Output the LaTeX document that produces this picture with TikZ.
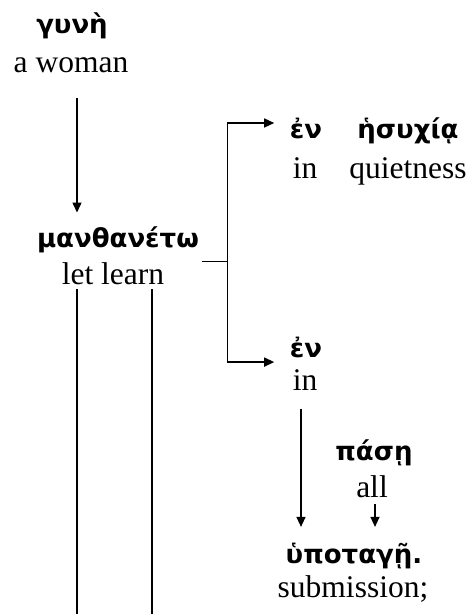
\documentclass[tikz,border=0pt]{standalone}
\usepackage{fontspec}
\setmainfont{Liberation Serif}
\newfontfamily\greekfont{DejaVu Sans}
\usetikzlibrary{arrows.meta}

\tikzset{
  gk/.style={font=\greekfont\bfseries\fontsize{26}{30}\selectfont, inner sep=0pt, anchor=base},
  gloss/.style={font=\fontsize{31.5}{36}\selectfont, inner sep=0pt, anchor=base},
  link/.style={-{Triangle[length=10pt,width=9pt]}},
}

\begin{document}
\begin{tikzpicture}[x=1pt, y=-1pt, line width=1.4pt]
    \useasboundingbox (0,0) rectangle (469,614);
    \coordinate (floor) at (0,614);

    % Greek words with their glosses
    \node[gk] (gyne) at (72,33) {γυνὴ};
    \node[gloss] (gyne-en) at (71,72) {a woman};

    \node[gk] (manth) at (118,247) {μανθανέτω};
    \node[gloss] (manth-en) at (113,284) {let learn};

    \node[gk] (en1) at (306,138) {ἐν};
    \node[gloss] (en1-en) at (305,178) {in};
    \node[gk] (hesy) at (408,138) {ἡσυχίᾳ};
    \node[gloss] (hesy-en) at (408,178) {quietness};

    \node[gk] (en2) at (306,357) {ἐν};
    \node[gloss] (en2-en) at (305,390) {in};

    \node[gk] (pase) at (374,460) {πάσῃ};
    \node[gloss] (pase-en) at (372,497) {all};

    \node[gk] (hypo) at (354,563) {ὑποταγῇ.};
    \node[gloss] (hypo-en) at (353,597) {submission;};

    % Subject into verb
    \draw[link, shorten <=25pt, shorten >=13pt]
        ([xshift=6pt]gyne-en.south) -- ([xshift=6pt]gyne-en.south |- manth.north);

    % Lines running on below the verb
    \draw[shorten <=4pt] ([xshift=-36pt]manth-en.south) -- ([xshift=-36pt]manth-en.south |- floor);
    \draw[shorten <=4pt] ([xshift=39pt]manth-en.south) -- ([xshift=39pt]manth-en.south |- floor);

    % Fork to the two prepositional phrases
    \draw ([xshift=2pt]manth.east |- manth-en.north) -- ++(26,0) coordinate (fork);
    \draw[link, shorten >=15pt] (fork) |- ([yshift=5pt]en1.west);
    \draw[link, shorten >=15pt] (fork) |- ([yshift=-4pt]en2.south west);

    % Object of the second preposition
    \draw[link, shorten <=18pt, shorten >=15pt]
        ([xshift=-4pt]en2-en.south) -- ([xshift=-4pt]en2-en.south |- hypo.north);
    \draw[link, shorten <=6pt, shorten >=15pt]
        ([xshift=3pt]pase-en.south) -- ([xshift=3pt]pase-en.south |- hypo.north);
\end{tikzpicture}
\end{document}
